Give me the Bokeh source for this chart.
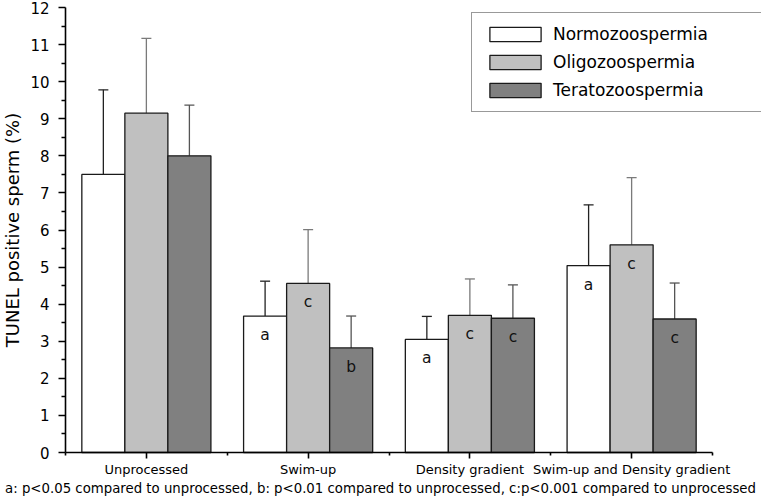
from bokeh.plotting import figure
from bokeh.models import Range1d, FixedTicker, ColumnDataSource, Whisker, TeeHead, Label
from bokeh.embed import file_html
from bokeh.resources import INLINE
from bokeh.core.properties import value

# ---------------- data ----------------
categories = ["Unprocessed", "Swim-up", "Density gradient", "Swim-up and Density gradient"]
series_names = ["Normozoospermia", "Oligozoospermia", "Teratozoospermia"]

normo_mean = [7.50, 3.68, 3.05, 5.04]
oligo_mean = [9.15, 4.56, 3.70, 5.60]
terato_mean = [8.00, 2.82, 3.62, 3.60]

normo_sd = [2.28, 0.94, 0.62, 1.64]
oligo_sd = [2.02, 1.45, 0.98, 1.81]
terato_sd = [1.37, 0.86, 0.90, 0.97]

normo_sig = ["", "a", "a", "a"]
oligo_sig = ["", "c", "c", "c"]
terato_sig = ["", "b", "c", "c"]

y_ticks = list(range(0, 13))
footnote = ("a: p<0.05 compared to unprocessed, b: p<0.01 compared to unprocessed, "
            "c:p<0.001 compared to unprocessed")

# ---------------- layout / style ----------------
FONT = "DejaVu Sans"
fills = ["#FFFFFF", "#C0C0C0", "#808080"]
err_colors = ["#222222", "#7a7a7a", "#555555"]
bar_w = 0.266
W, H = 761, 498
AXIS_X = 65          # px from the left where x = 0 sits
AXIS_Y = 452         # px from the top where y = 0 sits
TOP_Y = 7            # px from the top where y = 12 sits
X_PX = (712 - AXIS_X) / 4.0
Y_PX = (AXIS_Y - TOP_Y) / 12.0

x_start = -AXIS_X / X_PX
x_end = (W - AXIS_X) / X_PX
y_start = -(H - AXIS_Y) / Y_PX
y_end = 12 + TOP_Y / Y_PX

p = figure(width=W, height=H, output_backend="svg", toolbar_location=None,
           x_range=Range1d(x_start, x_end), y_range=Range1d(y_start, y_end),
           min_border=0, min_border_left=0, min_border_right=0,
           min_border_top=0, min_border_bottom=0)
p.outline_line_color = None
p.grid.visible = False
p.background_fill_color = "white"
p.border_fill_color = "white"

means = [normo_mean, oligo_mean, terato_mean]
sds = [normo_sd, oligo_sd, terato_sd]
sigs = [normo_sig, oligo_sig, terato_sig]

for k in range(3):
    xs = [i + 0.5 + (k - 1) * bar_w for i in range(len(categories))]
    src = ColumnDataSource(dict(
        x=xs, top=means[k],
        upper=[m + s for m, s in zip(means[k], sds[k])],
        sig=sigs[k]))
    p.vbar(x="x", top="top", bottom=0, width=bar_w, source=src,
           fill_color=fills[k], line_color="#1a1a1a", line_width=1.3,
           legend_label=series_names[k])
    wh = Whisker(base="x", lower="top", upper="upper", source=src,
                 line_color=err_colors[k], line_width=1.3,
                 upper_head=TeeHead(size=10, line_color=err_colors[k], line_width=1.3),
                 lower_head=None)
    p.add_layout(wh)
    p.text(x="x", y="top", text="sig", source=src, text_align="center",
           text_baseline="middle", y_offset=19, text_font=value(FONT),
           text_font_size="15.5px", text_color="#111111")

# ---------------- axes ----------------
xa = p.xaxis[0]
xa.fixed_location = 0
xa.bounds = (0, 4)
xa.ticker = FixedTicker(ticks=[i + 0.5 for i in range(len(categories))],
                        minor_ticks=list(range(len(categories) + 1)))
xa.major_label_overrides = {i + 0.5: c for i, c in enumerate(categories)}
xa.axis_line_color = "black"
xa.axis_line_width = 1.6
xa.major_tick_line_color = "black"
xa.major_tick_line_width = 1.6
xa.minor_tick_line_color = "black"
xa.minor_tick_line_width = 1.6
xa.major_tick_in = 0
xa.major_tick_out = 6
xa.minor_tick_in = 0
xa.minor_tick_out = 3
xa.major_label_standoff = 3
xa.major_label_text_font = FONT
xa.major_label_text_font_size = "13px"
xa.major_label_text_color = "black"

ya = p.yaxis[0]
ya.fixed_location = 0
ya.bounds = (0, 12)
ya.ticker = FixedTicker(ticks=y_ticks,
                        minor_ticks=[t + 0.5 for t in y_ticks[:-1]])
ya.axis_line_color = "black"
ya.axis_line_width = 1.6
ya.major_tick_line_color = "black"
ya.major_tick_line_width = 1.6
ya.minor_tick_line_color = "black"
ya.minor_tick_line_width = 1.4
ya.major_tick_in = 0
ya.major_tick_out = 7
ya.minor_tick_in = 0
ya.minor_tick_out = 4
ya.major_label_standoff = 9
ya.major_label_text_font = FONT
ya.major_label_text_font_size = "15px"
ya.major_label_text_color = "black"
ya.axis_label = "TUNEL positive sperm (%)"
ya.axis_label_standoff = 4
ya.axis_label_text_font = FONT
ya.axis_label_text_font_size = "18px"
ya.axis_label_text_font_style = "normal"
ya.axis_label_text_color = "black"

# footnote below the axis
note = Label(x=(380 - AXIS_X) / X_PX, y=-(488 - AXIS_Y) / Y_PX,
             text=footnote, text_align="center", text_baseline="middle",
             text_font=FONT, text_font_size="13.3px", text_color="black")
p.add_layout(note)

# ---------------- legend ----------------
lg = p.legend[0]
lg.location = (471, 386)
lg.margin = 0
lg.padding = 11
lg.spacing = 8
lg.glyph_width = 64
lg.glyph_height = 18
lg.label_height = 20
lg.label_width = 210
lg.label_standoff = 6
lg.label_text_font = FONT
lg.label_text_font_size = "17px"
lg.label_text_color = "black"
lg.border_line_color = "#333333"
lg.border_line_width = 1.2
lg.background_fill_color = "white"
lg.background_fill_alpha = 1.0

open("out.html", "w").write(file_html(p, INLINE))
